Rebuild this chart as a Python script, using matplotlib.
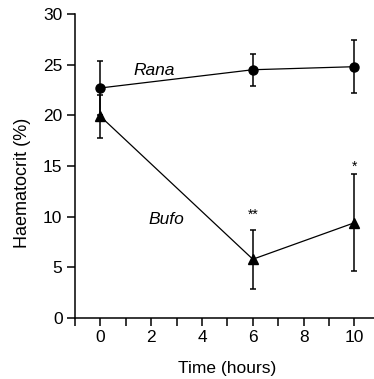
import numpy as np
import matplotlib.pyplot as plt

plt.rcParams['font.family'] = ['Liberation Sans', 'DejaVu Sans']

# Datos
tiempo = [0, 6, 10]
rana = [22.7, 24.5, 24.8]
rana_err = [2.7, 1.6, 2.6]
bufo = [19.9, 5.8, 9.4]
bufo_err = [2.1, 2.9, 4.8]
sig_x = [6, 10]
sig_y = [9.5, 14.2]
sig_txt = ['**', '*']

fig = plt.figure(figsize=(3.74, 3.79), dpi=100)
ax = fig.add_axes([75/374, 61/379, 299/374, 304/379])

ax.errorbar(tiempo, rana, yerr=rana_err, color='black', marker='o', markersize=6.5,
            linewidth=0.9, elinewidth=1.1, capsize=2.5, capthick=1.1)
ax.errorbar(tiempo, bufo, yerr=bufo_err, color='black', marker='^', markersize=6.5,
            linewidth=0.9, elinewidth=1.1, capsize=2.5, capthick=1.1)

for x, y, s in zip(sig_x, sig_y, sig_txt):
    ax.text(x, y, s, ha='center', va='bottom', fontsize=10)

ax.text(2.1, 24.4, 'Rana', style='italic', ha='center', va='center', fontsize=12.5)
ax.text(2.6, 9.7, 'Bufo', style='italic', ha='center', va='center', fontsize=12.5)

ax.set_xlim(-1, 10.77)
ax.set_ylim(0, 30)
ax.set_xticks(np.arange(-1, 11, 1))
ax.set_xticklabels(['' if i % 2 else str(i) for i in range(-1, 11)])
ax.set_yticks(np.arange(0, 31, 5))
ax.spines['top'].set_visible(False)
ax.spines['right'].set_visible(False)
ax.spines['left'].set_linewidth(1.1)
ax.spines['bottom'].set_linewidth(1.1)
ax.tick_params(direction='out', length=6, width=1.1, labelsize=12.5, pad=3)
ax.set_xlabel('Time (hours)', fontsize=12.5)
ax.set_ylabel('Haematocrit (%)', fontsize=13)
ax.xaxis.set_label_coords(0.51, -0.14)
ax.yaxis.set_label_coords(-0.148, 0.446)

fig.savefig('out.png', dpi=100)
